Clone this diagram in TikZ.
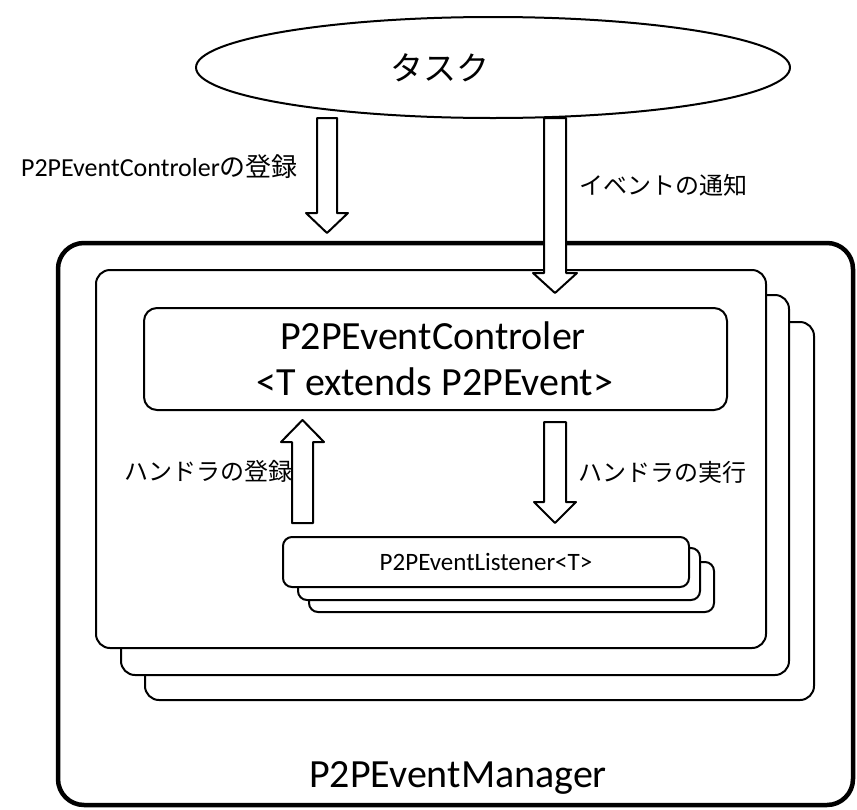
\documentclass[tikz,border=0pt]{standalone}
\usepackage{fontspec}
\setmainfont{Carlito}
\newfontfamily\jp{Noto Sans CJK JP}
\usetikzlibrary{shapes.geometric}
\begin{document}
\begin{tikzpicture}[x=1pt,y=-1pt,
  thin line/.style={line width=2pt, line join=round},
  card/.style={thin line, draw=black, fill=white, rounded corners=14pt},
  smallcard/.style={card, rounded corners=9pt},
  blockarrow/.style={thin line, draw=black, fill=white},
  lbl/.style={inner sep=0pt, font=\jp\fontsize{24}{28}\selectfont},
  bigtext/.style={inner sep=0pt, anchor=base, font=\fontsize{40}{44}\selectfont}
]
\useasboundingbox (0,0) rectangle (857,809);

% task ellipse
\node (task) [ellipse, thin line, draw, minimum width=594pt, minimum height=101pt] at (493,67.5) {};
\node (tasklbl) [inner sep=0pt, font=\jp\fontsize{33}{36}\selectfont] at (440,68) {タスク};

% outer manager frame
\draw[line width=4.5pt, rounded corners=26pt] (58,243) rectangle (853,805);
\node (mgr) [bigtext] at (458,787) {P2PEventManager};

% stacked controller cards
\draw[card] (145,322) rectangle (814,700);
\draw[card] (121,295) rectangle (789,675);
\draw[card] (96,270) rectangle (766,648);

% registration arrow from the task
\draw[blockarrow] (317,118) -- (337,118) -- (337,213) -- (348,213) -- (327,233) -- (306,213) -- (317,213) -- cycle;
\node (reglbl) [inner sep=0pt, anchor=base east] at (298,176)
  {\fontsize{26}{28}\selectfont P2PEventControler\jp\fontsize{26}{28}\selectfont の登録};

% event notification arrow
\draw[blockarrow] (544,118) -- (566,118) -- (566,273) -- (577,273) -- (555,293) -- (533,273) -- (544,273) -- cycle;
\node (notelbl) [lbl, anchor=west] at (579,185) {イベントの通知};

% controller
\draw[card, rounded corners=13pt] (144,308) rectangle (727,410);
\node (ctl1) [bigtext] at (433,349) {P2PEventControler};
\node (ctl2) [bigtext] at (435,395) {<T extends P2PEvent>};

% handler arrows
\draw[blockarrow] (292,523) -- (313,523) -- (313,442) -- (324,442) -- (302.5,420) -- (281,442) -- (292,442) -- cycle;
\node (hreg) [lbl, anchor=east] at (293,471) {ハンドラの登録};
\draw[blockarrow] (544,422) -- (566,422) -- (566,502) -- (576,502) -- (555,523) -- (534,502) -- (544,502) -- cycle;
\node (hexe) [lbl, anchor=west] at (578,472) {ハンドラの実行};

% stacked listener cards
\draw[smallcard] (309,562) rectangle (714,612);
\draw[smallcard] (298,548) rectangle (700,600);
\draw[smallcard] (283,537) rectangle (689,587);
\node (lsn) [inner sep=0pt, anchor=base, font=\fontsize{25}{28}\selectfont] at (486,570) {P2PEventListener<T>};
\end{tikzpicture}
\end{document}
